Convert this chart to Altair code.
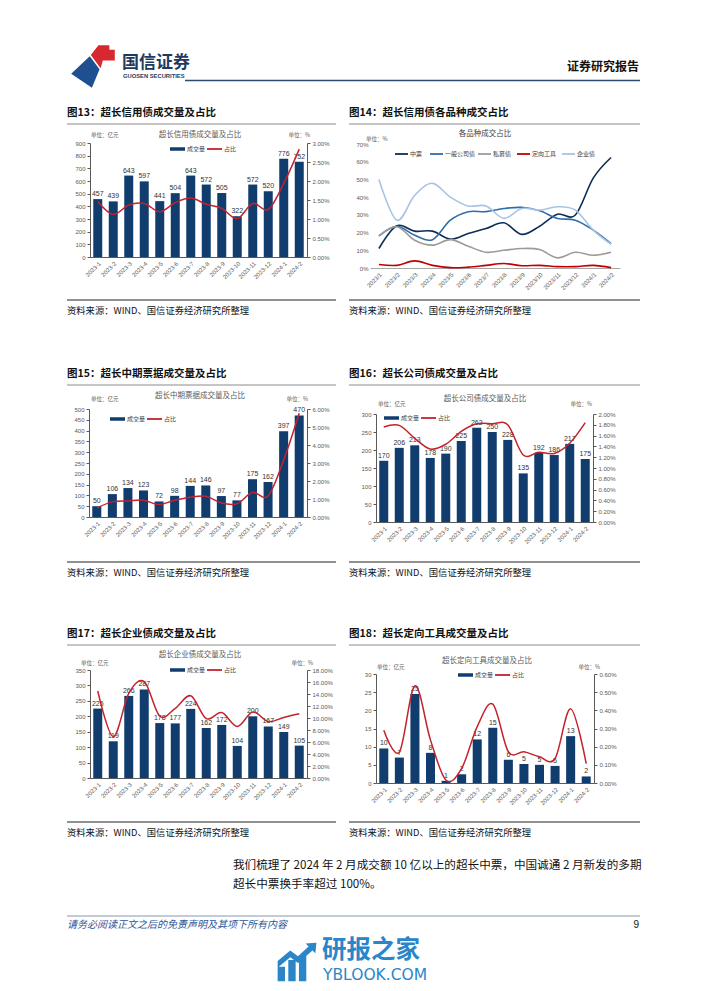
import altair as alt
import pandas as pd

W, H = 686, 982
FCN = "Noto Sans CJK SC"
FNUM = "Liberation Sans"
NAVY = "#103c6e"
RED = "#c4222c"
AX = "#595959"
LAB = "#595959"


def X(v):
    return v - 8


def Y(v):
    return v - 8


months_dash = ["2023-1", "2023-2", "2023-3", "2023-4", "2023-5", "2023-6", "2023-7",
               "2023-8", "2023-9", "2023-10", "2023-11", "2023-12", "2024-1", "2024-2"]
months_slash = ["2023/1", "2023/2", "2023/3", "2023/4", "2023/5", "2023/6", "2023/7",
                "2023/8", "2023/9", "2023/10", "2023/11", "2023/12", "2024/1", "2024/2"]

# 图13 超长信用债
vol13 = [457, 439, 643, 597, 441, 504, 643, 572, 505, 322, 572, 520, 776, 752]
pct13 = [1.46, 1.12, 1.37, 1.41, 1.19, 1.43, 1.55, 1.39, 1.28, 1.01, 1.41, 1.25, 1.94, 2.84]
# 图14 各品种成交占比
series14 = ["中票", "一般公司债", "私募债", "定向工具", "企业债"]
colors14 = ["#0d2d55", "#2e6dab", "#9b9b9b", "#c00000", "#a8c4e4"]
zp14 = [11, 23.8, 20.8, 20.8, 16.3, 19.5, 22.3, 25.5, 19, 23.6, 30.4, 29.9, 50.7, 62.4]
gs14 = [18.1, 23.6, 18.5, 16, 27, 31.8, 31.8, 33.6, 34.2, 32.3, 28, 27, 21.4, 13.8]
sm14 = [18.1, 23.3, 15.7, 12.9, 16, 12.3, 8.9, 10, 11, 10.4, 5.7, 8.9, 7.2, 8.9]
dx14 = [2, 1.5, 4, 1.5, 0.2, 0.5, 1.5, 2.5, 1.3, 1.5, 0.8, 0.8, 1.5, 0.2]
qy14 = [50, 27, 41, 47.8, 40, 35, 35, 28, 33.6, 32.7, 34.6, 32.7, 21.4, 13.4]
# 图15 超长中期票据
vol15 = [50, 106, 134, 123, 72, 98, 144, 146, 97, 77, 175, 162, 397, 470]
pct15 = [0.50, 0.84, 0.89, 0.93, 0.69, 0.93, 1.10, 1.15, 0.78, 0.74, 1.36, 1.17, 3.16, 5.76]
# 图16 超长公司债
vol16 = [170, 206, 213, 178, 190, 225, 262, 250, 228, 135, 192, 186, 217, 175]
pct16 = [1.76, 1.79, 1.55, 1.35, 1.44, 1.68, 1.82, 1.82, 1.80, 1.24, 1.29, 1.27, 1.46, 1.84]
# 图17 超长企业债
vol17 = [225, 119, 266, 287, 178, 177, 224, 162, 172, 104, 200, 167, 149, 105]
pct17 = [14.5, 6.9, 14.1, 16.05, 10.3, 11.6, 13.7, 9.9, 10.9, 8.6, 11.0, 9.4, 10.1, 10.7]
# 图18 超长定向工具
vol18 = [9.5, 7.0, 24.5, 8.3, 0.6, 2.4, 12.0, 15.2, 6.4, 5.2, 5.0, 4.7, 12.9, 1.8]
pct18 = [0.29, 0.17, 0.535, 0.236, 0.015, 0.08, 0.31, 0.434, 0.172, 0.172, 0.144, 0.135, 0.408, 0.107]

fig_titles = ["图13：超长信用债成交量及占比", "图14：超长信用债各品种成交占比",
              "图15：超长中期票据成交量及占比", "图16：超长公司债成交量及占比",
              "图17：超长企业债成交量及占比", "图18：超长定向工具成交量及占比"]
source_text = "资料来源：WIND、国信证券经济研究所整理"
body1 = "我们梳理了 2024 年 2 月成交额 10 亿以上的超长中票，中国诚通 2 月新发的多期"
body2 = "超长中票换手率超过 100%。"
legend_names = ["成交量", "占比"]
unit_l = "单位：亿元"
unit_r = "单位：%"

layers = []


def txt(s, x, y, size, color="#000", align="left", weight="normal", font=FCN, style="normal", baseline="middle"):
    return alt.Chart(pd.DataFrame({"t": [s]})).mark_text(
        align=align, baseline=baseline, fontSize=size, color=color,
        fontWeight=weight, font=font, fontStyle=style
    ).encode(x=alt.value(X(x)), y=alt.value(Y(y)), text="t:N")


def hline(x0, x1, y, color, width=1.0):
    return alt.Chart(pd.DataFrame({"t": [0]})).mark_rule(color=color, strokeWidth=width).encode(
        x=alt.value(X(x0)), x2=alt.value(X(x1)), y=alt.value(Y(y)))


def legend_item(x, y, color, label, sw, w=15):
    return [hline(x, x + w, y, color, sw), txt(label, x + w + 2, y, 6, color="#404040")]


def ax(**kw):
    d = dict(labelFont=FNUM, labelFontSize=6, labelColor=LAB, domainColor=AX, tickColor=AX,
             tickSize=3, grid=False, title=None, labelPadding=2, domainWidth=1)
    d.update(kw)
    return alt.Axis(**d)


def combo(months, vol, pct, x0, x1, y0, y1, lmax, lstep, rmax, rstep, title, tx, ty,
          uy, ulx, urx, lgx, lgy):
    df = pd.DataFrame({"m": months, "v": vol, "p": pct})
    xs = alt.Scale(type="band", domain=months, range=[X(x0), X(x1)], paddingInner=0.42, paddingOuter=0.21)
    ls = alt.Scale(domain=[0, lmax], range=[Y(y0), Y(y1)], nice=False, zero=True)
    rs = alt.Scale(domain=[0, rmax], range=[Y(y0), Y(y1)], nice=False, zero=True)
    lvals = [i * lstep for i in range(int(round(lmax / lstep)) + 1)]
    rvals = [round(i * rstep, 4) for i in range(int(round(rmax / rstep)) + 1)]
    base = alt.Chart(df)
    bars = base.mark_bar(color=NAVY).encode(
        x=alt.X("m:N", sort=months, scale=xs,
                axis=ax(orient="bottom", offset=Y(y0) - H, labelAngle=-45, ticks=False, labelPadding=3)),
        y=alt.Y("v:Q", scale=ls, axis=ax(orient="left", offset=-X(x0), values=lvals)),
    )
    labels = base.mark_text(baseline="bottom", dy=-2, fontSize=7, color="#333333", font=FNUM).encode(
        x=alt.X("m:N", sort=months, scale=xs, axis=None),
        y=alt.Y("v:Q", scale=ls, axis=None),
        text=alt.Text("v:Q", format=".0f"),
    )
    line = base.mark_line(color=RED, strokeWidth=1.5, interpolate="cardinal").encode(
        x=alt.X("m:N", sort=months, scale=xs, axis=None),
        y=alt.Y("p:Q", scale=rs, axis=ax(orient="right", offset=X(x1) - W, values=rvals,
                                          labelExpr="format(datum.value, '.2f') + '%'")),
    )
    out = [bars, labels, line,
           txt(title, tx, ty, 7.5, color=LAB, align="center"),
           txt(unit_l, ulx, uy, 5.5, color=LAB),
           txt(unit_r, urx, uy, 5.5, color=LAB, align="right")]
    out += legend_item(lgx, lgy, NAVY, legend_names[0], 3.5)
    out += legend_item(lgx + 37, lgy, RED, legend_names[1], 1.8)
    return out


# ---------- header ----------
logo_blue = "M -1 0.35 L -0.15 -0.45 L 0.3 0.15 L -0.05 1 Z"
logo_red = "M -0.1 -0.5 L 0.25 -0.95 L 0.75 -0.95 L 0.75 -0.75 L 1 -0.75 L 1 -0.25 L 0.45 -0.25 L 0.35 0.1 Z"
for shp, col in [(logo_blue, "#1d4f91"), (logo_red, "#d7282f")]:
    layers.append(alt.Chart(pd.DataFrame({"t": [0]})).mark_point(
        shape=shp, filled=True, opacity=1, color=col, size=1900, strokeWidth=0).encode(
        x=alt.value(X(93)), y=alt.value(Y(66))))
layers.append(txt("国信证券", 122, 63, 17, color="#1f3a5f", weight="bold"))
layers.append(txt("GUOSEN SECURITIES", 123, 76, 5.8, color="#1f3a5f", weight="bold", font="Liberation Sans"))
layers.append(txt("证券研究报告", 639, 67, 12, color="#111111", align="right", weight="bold"))
layers.append(hline(185, 640, 80.5, "#2b4b6f", 1.6))

# ---------- figure titles & source lines ----------
cols = [67, 349]
col_end = [336, 640]
rows_title = [113, 374, 634]
rows_src_line = [300, 562, 822]
rows_src_text = [311, 573, 833]
k = 0
for r in range(3):
    for c in range(2):
        layers.append(txt(fig_titles[k], cols[c], rows_title[r], 10.5, color="#111111", weight="bold"))
        layers.append(hline(cols[c], col_end[c], rows_title[r] + 11, "#8c8c8c", 1.2))
        layers.append(hline(cols[c], col_end[c], rows_src_line[r], "#222222", 1.2))
        layers.append(txt(source_text, cols[c], rows_src_text[r], 9.3, color="#111111"))
        k += 1

# ---------- panels ----------
layers += combo(months_dash, vol13, pct13, 90, 307, 257, 143, 900, 100, 3.0, 0.5,
                "超长信用债成交量及占比", 200, 135, 135, 91, 310, 170, 149)
layers += combo(months_dash, vol15, pct15, 89, 307, 517, 409, 500, 50, 6.0, 1.0,
                "超长中期票据成交量及占比", 200, 396, 399, 91, 308, 110, 419)
layers += combo(months_dash, vol16, pct16, 376, 593, 522, 414, 300, 50, 2.0, 0.2,
                "超长公司债成交量及占比", 485, 399, 404, 378, 592, 384, 418)
layers += combo(months_dash, vol17, pct17, 90, 307, 778, 670, 350, 50, 18.0, 2.0,
                "超长企业债成交量及占比", 200, 655, 663, 81, 313, 170, 670)
layers += combo(months_dash, vol18, pct18, 376, 594, 783, 674, 30, 5, 0.6, 0.1,
                "超长定向工具成交量及占比", 487, 661, 667, 377, 600, 458, 675)

# panel 14: multi-line
rows = []
for name, vals in zip(series14, [zp14, gs14, sm14, dx14, qy14]):
    for m, v in zip(months_slash, vals):
        rows.append({"m": m, "s": name, "v": v})
df14 = pd.DataFrame(rows)
xs14 = alt.Scale(type="band", domain=months_slash, range=[X(370), X(620)], paddingInner=0, paddingOuter=0)
ys14 = alt.Scale(domain=[0, 70], range=[Y(268), Y(144)], nice=False)
layers.append(alt.Chart(df14).mark_line(strokeWidth=1.6, interpolate="cardinal").encode(
    x=alt.X("m:N", sort=months_slash, scale=xs14,
            axis=ax(orient="bottom", offset=Y(268) - H, labelAngle=-45, ticks=False, labelPadding=3,
                    domainColor="#a6a6a6")),
    y=alt.Y("v:Q", scale=ys14, axis=ax(orient="left", offset=-X(370), values=list(range(0, 71, 10)),
                                       domain=False, ticks=False, labelExpr="datum.value + '%'")),
    color=alt.Color("s:N", scale=alt.Scale(domain=series14, range=colors14), legend=None),
    detail="s:N",
))
layers.append(txt("各品种成交占比", 485, 134, 7.5, color="#404040", align="center"))
layers.append(txt(unit_r, 366, 139, 5.5, color=LAB))
for xx, name, col in zip([395, 430, 478, 517, 562], series14, colors14):
    layers += legend_item(xx, 154, col, name, 1.8, w=13)

# ---------- body text ----------
layers.append(txt(body1, 233, 866, 11.6, color="#111111"))
layers.append(txt(body2, 233, 885, 11.6, color="#111111"))

# ---------- footer ----------
layers.append(hline(67, 640, 916, "#8497b0", 1.0))
layers.append(txt("请务必阅读正文之后的免责声明及其项下所有内容", 67, 925, 10, color="#2f5597", style="italic"))
layers.append(txt("9", 639, 925, 10, color="#111111", align="right", font=FNUM))

# ---------- watermark ----------
wm_icon = ("M -1 1 L -1 0.25 L -0.62 0.25 L -0.62 1 Z "
           "M -0.45 1 L -0.45 -0.1 L -0.07 -0.1 L -0.07 1 Z "
           "M 0.1 1 L 0.1 -0.35 L 0.48 -0.35 L 0.48 1 Z "
           "M -1 -0.05 L -0.35 -0.6 L 0.05 -0.3 L 0.6 -0.8 L 0.45 -0.95 L 1 -1 L 0.95 -0.45 L 0.8 -0.6 L 0.05 0.05 L -0.35 -0.25 L -1 0.3 Z")
layers.append(alt.Chart(pd.DataFrame({"t": [0]})).mark_point(
    shape=wm_icon, filled=True, opacity=1, color="#2a86c9", size=1500, strokeWidth=0).encode(
    x=alt.value(X(297)), y=alt.value(Y(962))))
layers.append(txt("研报之家", 322, 951, 24.5, color="#2a86c9", weight="bold"))
layers.append(txt("YBLOOK.COM", 323, 975, 15.5, color="#2a86c9", font="DejaVu Sans"))

chart = alt.layer(*layers).resolve_scale(
    x="independent", y="independent", color="independent"
).properties(
    width=W, height=H, padding=0, autosize=alt.AutoSizeParams(type="none"), background="white"
).configure_view(stroke=None)

chart.save("out.html", embed_options={"renderer": "svg", "actions": False})
